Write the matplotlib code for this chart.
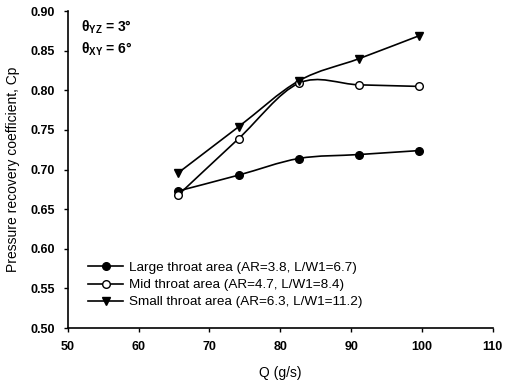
import numpy as np
import matplotlib.pyplot as plt
from matplotlib.path import Path
from matplotlib.patches import PathPatch

# Datos
caudal = [65.6, 74.1, 82.6, 91.1, 99.6]
cp_grande = [0.673, 0.693, 0.714, 0.719, 0.724]
cp_medio = [0.668, 0.739, 0.809, 0.807, 0.805]
cp_pequeno = [0.696, 0.754, 0.812, 0.840, 0.869]

etiquetas = [
    'Large throat area (AR=3.8, L/W1=6.7)',
    'Mid throat area (AR=4.7, L/W1=8.4)',
    'Small throat area (AR=6.3, L/W1=11.2)',
]

plt.rcParams['font.family'] = ['Liberation Sans', 'DejaVu Sans']
plt.rcParams['mathtext.fontset'] = 'custom'
plt.rcParams['mathtext.rm'] = 'Liberation Sans:bold'
plt.rcParams['mathtext.it'] = 'Liberation Sans:bold'
plt.rcParams['mathtext.bf'] = 'Liberation Sans:bold'


def curva_suave(ax, xs, ys, tension=1 / 6):
    """Linea suavizada tipo Excel (Bezier por Catmull-Rom)."""
    pts = np.column_stack([xs, ys])
    verts = [pts[0]]
    codes = [Path.MOVETO]
    n = len(pts)
    for i in range(n - 1):
        p0 = pts[i - 1] if i > 0 else pts[i]
        p1 = pts[i]
        p2 = pts[i + 1]
        p3 = pts[i + 2] if i + 2 < n else pts[i + 1]
        c1 = p1 + (p2 - p0) * tension
        c2 = p2 - (p3 - p1) * tension
        verts += [c1, c2, p2]
        codes += [Path.CURVE4] * 3
    ax.add_patch(PathPatch(Path(verts, codes), fill=False, lw=1.2,
                           edgecolor='black', zorder=2))


fig = plt.figure(figsize=(5.06, 3.85), dpi=100)
ax = fig.add_axes([0.134, 0.148, 0.840, 0.823])

series = [
    (cp_grande, dict(marker='o', markerfacecolor='black', markersize=5.5)),
    (cp_medio, dict(marker='o', markerfacecolor='white', markersize=5.5)),
    (cp_pequeno, dict(marker='v', markerfacecolor='black', markersize=5.5)),
]
for (ys, estilo), nombre in zip(series, etiquetas):
    curva_suave(ax, caudal, ys)
    ax.plot(caudal, ys, linestyle='none', markeredgecolor='black',
            markeredgewidth=1.0, zorder=3, **estilo)
    # handle para la leyenda
    ax.plot([], [], color='black', lw=1.2, markeredgecolor='black',
            label=nombre, **estilo)

ax.set_xlim(50, 110)
ax.set_ylim(0.50, 0.90)
ax.set_xticks(np.arange(50, 111, 10))
ax.set_yticks(np.arange(0.50, 0.901, 0.05))
ax.set_yticklabels([f'{v:.2f}' for v in np.arange(0.50, 0.901, 0.05)])

for s in ['top', 'right']:
    ax.spines[s].set_visible(False)
for s in ['left', 'bottom']:
    ax.spines[s].set_linewidth(1.2)
ax.tick_params(direction='out', length=3, width=1.0, labelsize=9, pad=6)
for t in ax.get_xticklabels() + ax.get_yticklabels():
    t.set_fontweight('bold')

ax.set_xlabel('Q (g/s)', fontsize=10, labelpad=10)
ax.set_ylabel('Pressure recovery coefficient, Cp', fontsize=10, labelpad=8)

ax.text(0.03, 0.95, 'θ$_{YZ}$ = 3°', transform=ax.transAxes,
        fontsize=10, fontweight='bold', va='center')
ax.text(0.03, 0.88, 'θ$_{XY}$ = 6°', transform=ax.transAxes,
        fontsize=10, fontweight='bold', va='center')

ax.legend(loc='lower left', bbox_to_anchor=(0.035, 0.045), frameon=False,
          fontsize=9.7, handlelength=2.6, handletextpad=0.45,
          labelspacing=0.35, borderaxespad=0)

fig.savefig('out.png', dpi=100)
